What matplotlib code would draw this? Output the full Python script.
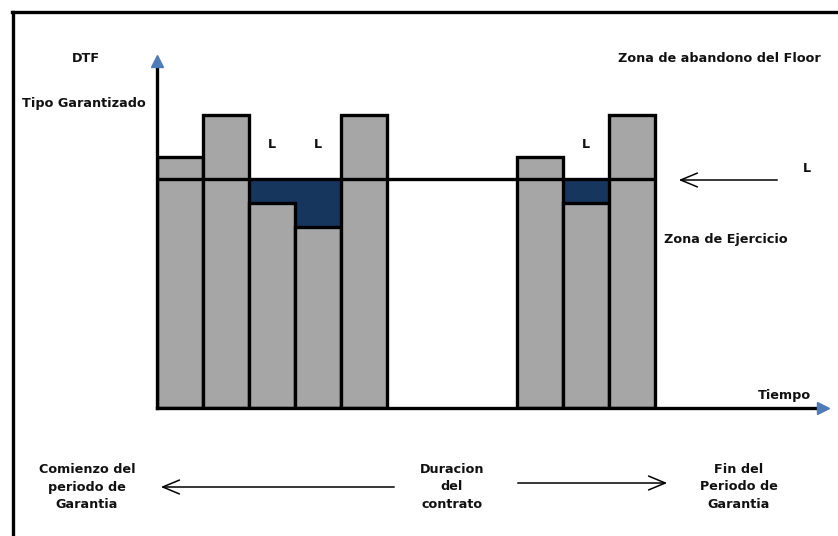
import matplotlib.pyplot as plt

# Datos del esquema (alturas de la DTF por periodo, nivel del floor)
periodos = [0, 1, 2, 3, 4, 7.83, 8.83, 9.83]   # borde izquierdo de cada periodo
dtf = [25.1, 29.3, 20.5, 18.1, 29.3, 25.1, 20.5, 29.3]
floor = 22.9
etiquetas_L = [2, 3, 6]   # periodos donde se ejerce el floor

gris = "#a6a6a6"
azul_osc = "#17365d"
azul_flecha = "#4f7cb8"
W, H = 838, 536

fig = plt.figure(figsize=(W / 100, H / 100), dpi=100)

# capa de anotaciones en pixeles
ov = fig.add_axes([0, 0, 1, 1])
ov.set_xlim(0, W)
ov.set_ylim(H, 0)
ov.axis("off")

# grafico principal
x0, y0, x1, y1 = 157, 408, 823, 61
ax = fig.add_axes([x0 / W, (H - y0) / H, (x1 - x0) / W, (y0 - y1) / H])
ax.set_xlim(0, (x1 - x0) / 46)
ax.set_ylim(0, (y0 - y1) / 10)
ax.patch.set_alpha(0)
for s in ["top", "right"]:
    ax.spines[s].set_visible(False)
for s in ["left", "bottom"]:
    ax.spines[s].set_linewidth(2.4)
ax.set_xticks([])
ax.set_yticks([])

# zona de ejercicio (entre la DTF y el floor)
bajos = [(p, d) for p, d in zip(periodos, dtf) if d < floor]
ax.bar([p for p, d in bajos], [floor - d for p, d in bajos], bottom=[d for p, d in bajos],
       width=1, align="edge", color=azul_osc, linewidth=0, zorder=1)
ax.bar(periodos, dtf, width=1, align="edge", color=gris, edgecolor="black", linewidth=2.4, zorder=2)
ax.hlines(floor, 0, periodos[-1] + 1, color="black", linewidth=2.4, zorder=4)

# puntas azules de los ejes
ax.plot(1, 0, ">", color=azul_flecha, markersize=9, transform=ax.transAxes, clip_on=False, zorder=5)
ax.plot(0, 1, "^", color=azul_flecha, markersize=8, transform=ax.transAxes, clip_on=False, zorder=5)

# marco
ov.plot([12, W], [12, 12], color="black", linewidth=2.4)
ov.plot([13, 13], [12, H], color="black", linewidth=2.4)

fs = 9.2
kw = dict(fontsize=fs, color="#111111", fontweight="bold")
ov.text(86, 58, "DTF", ha="center", va="center", **kw)
ov.text(22, 104, "Tipo Garantizado", ha="left", va="center", **kw)
for i in etiquetas_L:
    ax.text(periodos[i] + 0.5, 26.3, "L", ha="center", va="center", **kw)
ov.text(618, 58, "Zona de abandono del Floor", ha="left", va="center", **kw)
ov.text(807, 168, "L", ha="center", va="center", **kw)
ov.text(664, 240, "Zona de Ejercicio", ha="left", va="center", **kw)
ov.text(758, 396, "Tiempo", ha="left", va="center", **kw)

ov.annotate("", xy=(676, 180), xytext=(780, 180),
            arrowprops=dict(arrowstyle="->,head_length=1.2,head_width=0.5", color="black", lw=1.1))

ov.text(87, 487, "Comienzo del\nperiodo de\nGarantia", ha="center", va="center", linespacing=1.45, **kw)
ov.text(452, 487, "Duracion\ndel\ncontrato", ha="center", va="center", linespacing=1.45, **kw)
ov.text(739, 487, "Fin del\nPeriodo de\nGarantia", ha="center", va="center", linespacing=1.45, **kw)
ov.annotate("", xy=(158, 487), xytext=(397, 487),
            arrowprops=dict(arrowstyle="->,head_length=1.2,head_width=0.5", color="black", lw=1.1))
ov.annotate("", xy=(670, 483), xytext=(515, 483),
            arrowprops=dict(arrowstyle="->,head_length=1.2,head_width=0.5", color="black", lw=1.1))

fig.savefig("out.png", dpi=100)
